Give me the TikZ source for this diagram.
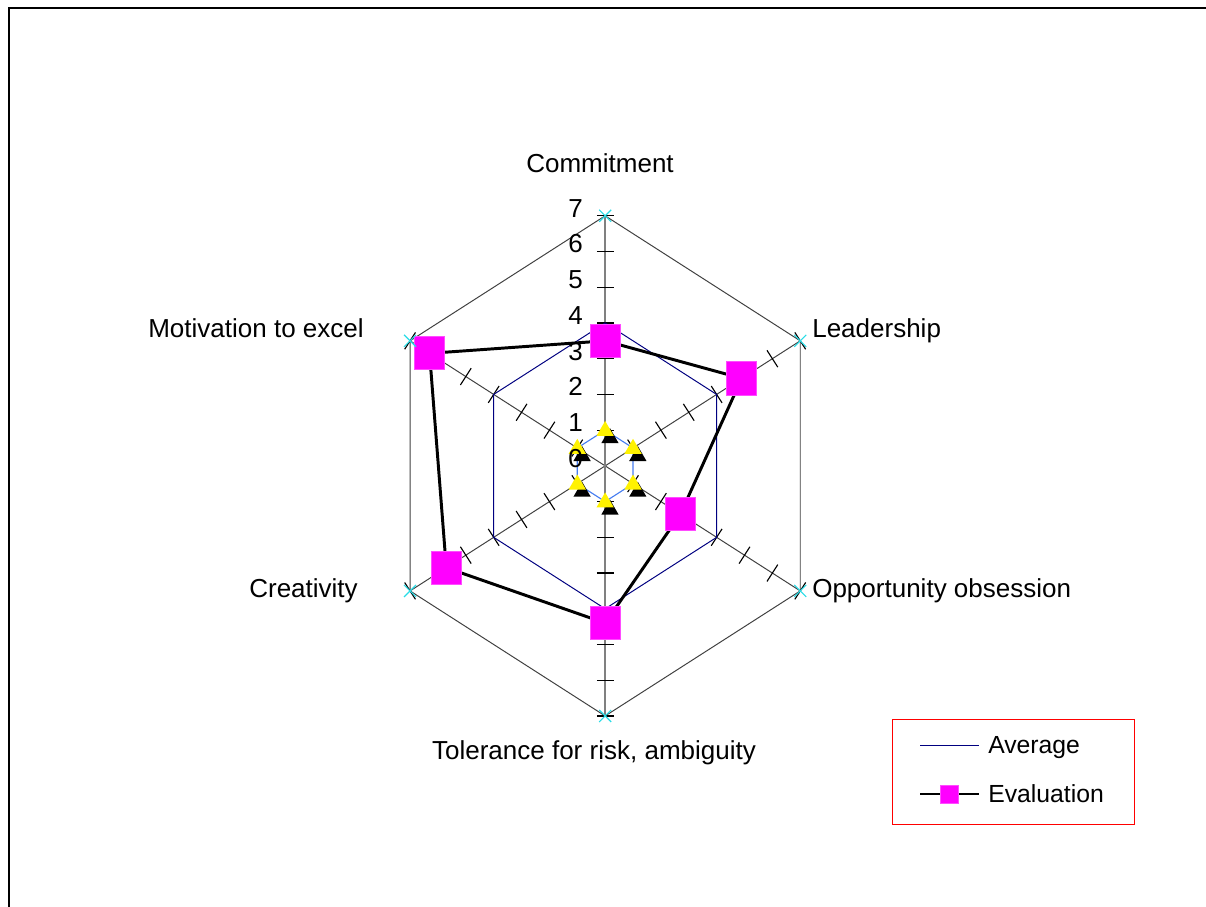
\documentclass[tikz,border=0pt]{standalone}
\usepackage{fontspec}
\setmainfont{Liberation Sans}
\usetikzlibrary{positioning,shapes.geometric}

\definecolor{avgblue}{RGB}{0,0,128}
\definecolor{lowblue}{RGB}{70,125,240}
\definecolor{evalpink}{RGB}{255,0,255}
\definecolor{maxcyan}{RGB}{40,220,230}

\tikzset{
  lbl/.style={font=\fontsize{18.5}{22}\selectfont, inner sep=0pt},
  leglbl/.style={font=\fontsize{17.6}{21}\selectfont, inner sep=0pt},
  gridline/.style={draw=black!75, line width=0.7pt},
  axisline/.style={draw=black!75, line width=0.7pt},
  valaxis/.style={draw=black!50, line width=1pt},
  tickline/.style={draw=black, line width=0.8pt},
  avgline/.style={draw=avgblue, line width=0.7pt},
  lowline/.style={draw=lowblue, line width=0.8pt},
  evalline/.style={draw=black, line width=2.1pt},
  evalsq/.style={rectangle, fill=evalpink, draw=evalpink!70, line width=0.5pt,
    minimum width=0.75cm, minimum height=0.825cm, inner sep=0pt},
  tri/.style={regular polygon, regular polygon sides=3, inner sep=0pt, minimum size=0.5cm},
  xmark/.style={draw=maxcyan, line width=0.8pt},
}

\begin{document}
\begin{tikzpicture}[x=0.025cm,y=0.025cm]
\useasboundingbox (0,0) rectangle (1206,907);
% chart area border
\draw[line width=1.4pt] (9,0) -- (9,899) -- (1206,899);

\begin{scope}[shift={(15.125cm,11.025cm)},x=0.8043cm,y=0.8929cm]
  % outer grid
  \draw[gridline] (90:7) -- (30:7) -- (-30:7) -- (-90:7) -- (210:7) -- (150:7) -- cycle;
  % category axes with their ticks
  \foreach \a/\p in {30/122.7,-30/57.3,210/122.7,150/57.3}{
    \draw[axisline] (0,0) -- (\a:7);
    \foreach \v in {1,...,7}
      \draw[tickline] (\a:\v) ++(\p:0.25cm) -- ++(\p:-0.5cm);
  }
  \draw[valaxis] (-90:7) -- (90:7);
  \foreach \v in {1,...,7}{
    \draw[tickline] (90:\v) ++(-0.21cm,0) -- ++(0.42cm,0);
    \draw[tickline] (-90:\v) ++(-0.21cm,0) -- ++(0.42cm,0);
  }

  % average
  \draw[avgline] (90:4) -- (30:4) -- (-30:4) -- (-90:4) -- (210:4) -- (150:4) -- cycle;
  % low series
  \draw[lowline] (90:1) -- (30:1) -- (-30:1) -- (-90:1) -- (210:1) -- (150:1) -- cycle;
  \foreach \a [count=\i] in {90,30,-30,-90,210,150}{
    \path (\a:1) ++(0.12cm,-0.2cm) node[tri, fill=black] (s\i) {};
    \path (\a:1) ++(0,-0.02cm) node[tri, fill=yellow] (y\i) {};
  }

  % value labels
  \foreach \v in {0,...,7}
    \path (90:\v) ++(-0.74cm,0.19cm) node[lbl] (t\v) {\v};

  % evaluation
  \foreach \a/\v [count=\i] in {90/3.5,30/4.9,-30/2.7,-90/4.4,210/5.7,150/6.3}
    \coordinate (e\i) at (\a:\v);
  \draw[evalline] (e1) -- (e2) -- (e3) -- (e4) -- (e5) -- (e6) -- cycle;
  \foreach \i in {1,...,6}
    \path (e\i) node[evalsq] (q\i) {};

  % maximum markers
  \foreach \a in {90,30,-30,-90,210,150}{
    \draw[xmark] (\a:7) ++(-0.15cm,-0.15cm) -- ++(0.3cm,0.3cm);
    \draw[xmark] (\a:7) ++(-0.15cm,0.15cm) -- ++(0.3cm,-0.3cm);
  }
\end{scope}

% category labels
\path (600,734) node[lbl, anchor=base] (commit) {Commitment};
\path (812,569) node[lbl, anchor=base west] (lead) {Leadership};
\path (812,309) node[lbl, anchor=base west] (opp) {Opportunity obsession};
\path (594,147) node[lbl, anchor=base] (risk) {Tolerance for risk, ambiguity};
\path (358,309) node[lbl, anchor=base east] (creat) {Creativity};
\path (364,569) node[lbl, anchor=base east] (motiv) {Motivation to excel};

% legend
\draw[red, line width=0.7pt] (892,83) rectangle (1134,188);
\coordinate (la1) at (920,162);
\coordinate (la2) at (979,162);
\draw[avgline] (la1) -- (la2);
\path (988,153) node[leglbl, anchor=base west] (lavg) {Average};
\coordinate (le1) at (920,113);
\coordinate (le2) at (979,113);
\draw[evalline] (le1) -- (le2);
\path (949.5,113) node[evalsq, minimum width=0.45cm, minimum height=0.45cm] (lsq) {};
\path (988,104) node[leglbl, anchor=base west] (leval) {Evaluation};
\end{tikzpicture}
\end{document}
